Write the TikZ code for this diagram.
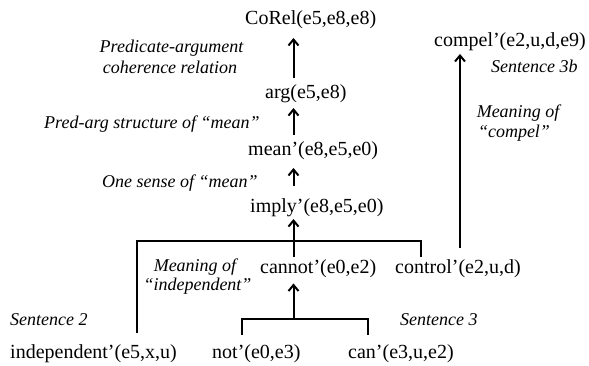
\documentclass[tikz,border=0pt]{standalone}
\usepackage{fontspec}
\setmainfont{Liberation Serif}
\usetikzlibrary{arrows.meta}
\begin{document}
\begin{tikzpicture}[x=1pt,y=-1pt,
  term/.style={inner sep=0pt, anchor=base west, font=\fontsize{20}{24}\selectfont},
  lbl/.style={inner sep=0pt, anchor=base west, font=\fontsize{18}{21}\selectfont\itshape},
  clbl/.style={inner sep=0pt, anchor=base, font=\fontsize{18}{21}\selectfont\itshape},
  conn/.style={line width=2pt},
  arr/.style={line width=2pt, -{Straight Barb[length=6pt,width=10pt,line width=2pt]}}]
\useasboundingbox (0,0) rectangle (589,365);
% terms
\node[term] (corel) at (245,24.5) {CoRel(e5,e8,e8)};
\node[term] (compel) at (434,46) {compel’(e2,u,d,e9)};
\node[term] (arg) at (265,98.5) {arg(e5,e8)};
\node[term] (mean) at (248,155.5) {mean’(e8,e5,e0)};
\node[term] (imply) at (250,212) {imply’(e8,e5,e0)};
\node[term] (cannot) at (260,273) {cannot’(e0,e2)};
\node[term] (control) at (395,273) {control’(e2,u,d)};
\node[term] (indep) at (10,358) {independent’(e5,x,u)};
\node[term] (not) at (212,358) {not’(e0,e3)};
\node[term] (can) at (348,358) {can’(e3,u,e2)};
% labels
\node[clbl] (l1a) at (171.5,52) {Predicate-argument};
\node[clbl] (l1b) at (170,73) {coherence relation};
\node[lbl] (l2) at (44,128) {Pred-arg structure of “mean”};
\node[lbl] (l3) at (102,187) {One sense of “mean”};
\node[clbl] (l4a) at (195,271) {Meaning of};
\node[clbl] (l4b) at (197.5,290) {“independent”};
\node[lbl] (s2) at (10,325) {Sentence 2};
\node[lbl] (s3) at (400,325) {Sentence 3};
\node[lbl] (s3b) at (491,72) {Sentence 3b};
\node[clbl] (l5a) at (518,117) {Meaning of};
\node[clbl] (l5b) at (514,137) {“compel”};
% columns
\coordinate (ax) at (293.5,0);
\coordinate (xl) at (137,0);
\coordinate (xr) at (421,0);
\coordinate (xc) at (460,0);
\coordinate (ub) at (0,241);
\coordinate (bl) at (242,0);
\coordinate (br) at (368,0);
\coordinate (lb) at (0,319);
% main spine
\draw[arr, shorten <=6.5pt, shorten >=9pt] (arg.north -| ax) -- (corel.south -| ax);
\draw[arr, shorten <=6.5pt, shorten >=5pt] (mean.north -| ax) -- (arg.south -| ax);
\draw[arr, shorten <=12pt, shorten >=8pt] (imply.north -| ax) -- (mean.south -| ax);
\draw[arr, shorten <=2pt, shorten >=2.5pt] (cannot.north -| ax) -- (imply.south -| ax);
% upper bracket
\draw[conn, shorten <=11pt, shorten >=2pt] (indep.north -| xl) -- (xl |- ub) -- (xr |- ub) -- (control.north -| xr);
% lower bracket
\draw[conn, shorten <=9pt, shorten >=9pt] (not.north -| bl) -- (bl |- lb) -- (br |- lb) -- (can.north -| br);
\draw[arr, shorten >=6pt] (ax |- lb) -- (cannot.south -| ax);
% compel
\draw[arr, shorten <=11pt, shorten >=3.5pt] (control.north -| xc) -- (compel.south -| xc);
\end{tikzpicture}
\end{document}
